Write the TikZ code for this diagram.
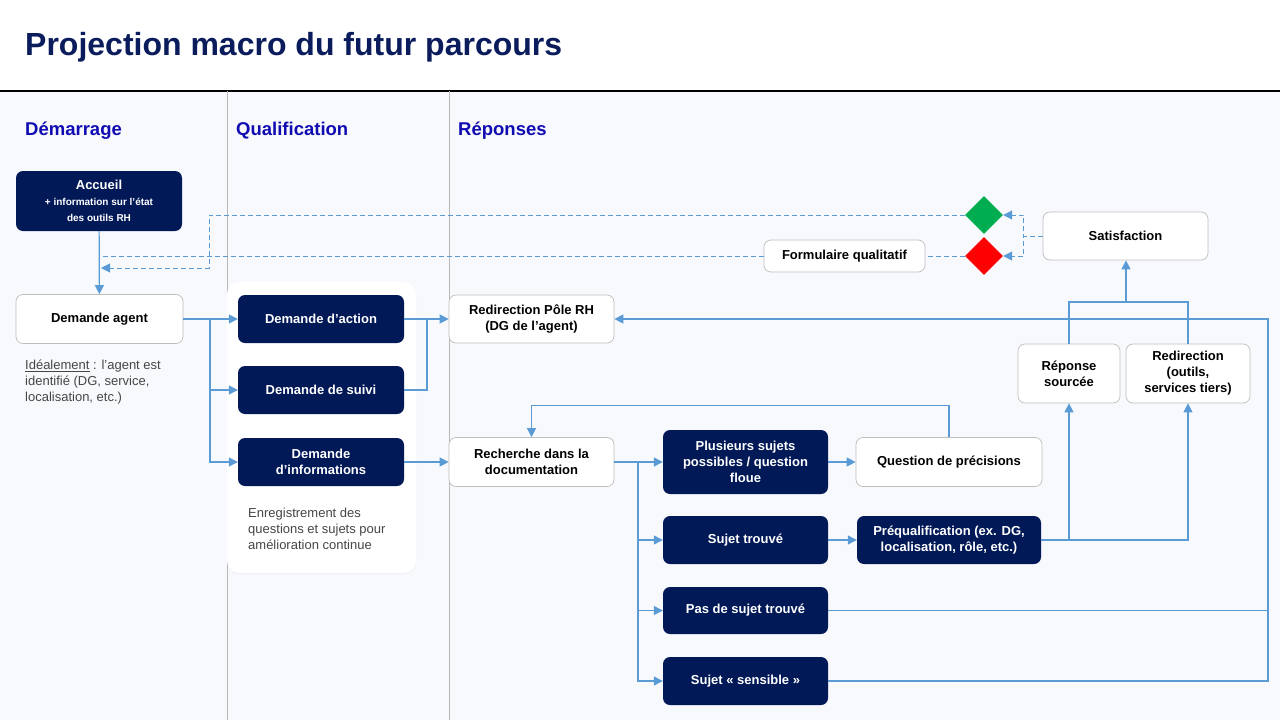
\documentclass[tikz,border=0pt]{standalone}
\usepackage{fontspec}
\setmainfont{Liberation Sans}
\usetikzlibrary{arrows.meta, positioning, shapes.geometric, shadows}

\definecolor{navy}{RGB}{2,25,87}
\definecolor{titleblue}{RGB}{10,28,92}
\definecolor{headblue}{RGB}{17,12,178}
\definecolor{flow}{RGB}{91,155,213}
\definecolor{pagebg}{RGB}{247,249,253}
\definecolor{boxline}{RGB}{190,190,190}
\definecolor{notegray}{RGB}{70,70,70}
\definecolor{okgreen}{RGB}{0,173,80}
\definecolor{kored}{RGB}{255,0,0}

\newcommand{\boxfont}{\fontsize{13}{16}\selectfont\bfseries}
\newcommand{\petit}{\fontsize{10}{12}\selectfont\bfseries}

\begin{document}
\begin{tikzpicture}[
    x=1pt, y=-1pt,
    darkbox/.style={rectangle, rounded corners=7pt, fill=navy, text=white, font=\boxfont, align=center, minimum width=166pt, minimum height=48pt, inner sep=2pt},
    lightbox/.style={rectangle, rounded corners=7pt, draw=boxline, line width=0.7pt, fill=white, font=\boxfont, align=center, minimum width=166pt, minimum height=48pt, inner sep=2pt},
    header/.style={anchor=west, inner sep=0pt, text=headblue, font=\fontsize{18.5}{22}\selectfont\bfseries},
    note/.style={anchor=north west, inner sep=0pt, align=left, text=notegray, font=\fontsize{13}{16}\selectfont},
    flowline/.style={draw=flow, line width=1.2pt},
    flowarrow/.style={flowline, -{Triangle[length=9pt,width=9pt]}},
    dashline/.style={flowline, line width=1pt, dash pattern=on 5pt off 3pt},
    dasharrow/.style={dashline, -{Triangle[length=9pt,width=9pt]}},
    choice/.style={diamond, minimum width=38pt, minimum height=38pt, inner sep=0pt}
]

\useasboundingbox (0,0) rectangle (1280,720);

% Background and columns
\fill[white] (0,0) rectangle (1280,91);
\fill[pagebg] (0,91) rectangle (1280,720);
\draw[black, line width=1.8pt] (0,91) -- (1280,91);
\draw[gray!55, line width=0.8pt] (227,91) -- (227,720);
\draw[gray!55, line width=0.8pt] (449,91) -- (449,720);

% Title and column headers
\node[anchor=west, inner sep=0pt, text=titleblue, font=\fontsize{32}{38}\selectfont\bfseries] (titre) at (25,47) {Projection macro du futur parcours};
\node[header] (h_demarrage) at (25,131) {Démarrage};
\node[header] (h_qualif) at (236,131) {Qualification};
\node[header] (h_reponses) at (458,131) {Réponses};

% Démarrage
\node[darkbox, minimum height=60pt] (accueil) at (99,201) {Accueil\\\petit + information sur l’état\\\petit des outils RH};
\node[lightbox, minimum width=167pt, minimum height=49pt] (agent) at (99.5,319) {Demande agent};
\node[note] (note_agent) at (25,360) {\underline{Idéalement} : l’agent est\\identifié (DG, service,\\localisation, etc.)};

% Qualification
\node[rectangle, rounded corners=12pt, fill=white, minimum width=189pt, minimum height=291pt, drop shadow={opacity=0.08, shadow xshift=0pt, shadow yshift=-1pt}] (panneau) at (321.5,427.5) {};
\node[darkbox] (action) at (321,319) {Demande d’action};
\node[darkbox] (suivi) at (321,390) {Demande de suivi};
\node[darkbox] (infos) at (321,462) {Demande\\d’informations};
\node[note] (note_qualif) at (248,508) {Enregistrement des\\questions et sujets pour\\amélioration continue};

% Réponses
\node[lightbox, minimum width=165pt] (redir_rh) at (531.5,319) {Redirection Pôle RH\\(DG de l’agent)};
\node[lightbox, minimum width=165pt, minimum height=49pt] (recherche) at (531.5,462) {Recherche dans la\\documentation};
\node[darkbox, minimum width=165pt, minimum height=64pt] (plusieurs) at (745.5,462) {Plusieurs sujets\\possibles / question\\floue};
\node[lightbox, minimum width=186pt, minimum height=49pt] (question) at (949,462) {Question de précisions};
\node[darkbox, minimum width=165pt] (trouve) at (745.5,540) {Sujet trouvé};
\node[darkbox, minimum width=184pt] (prequal) at (949,540) {Préqualification (ex. DG,\\localisation, rôle, etc.)};
\node[darkbox, minimum width=165pt, minimum height=47pt] (pas_trouve) at (745.5,610.5) {Pas de sujet trouvé};
\node[darkbox, minimum width=165pt] (sensible) at (745.5,681) {Sujet «~sensible~»};
\node[lightbox, minimum width=102pt, minimum height=59pt] (sourcee) at (1069,373.5) {Réponse\\sourcée};
\node[lightbox, minimum width=124pt, minimum height=59pt] (tiers) at (1188,373.5) {Redirection\\(outils,\\services tiers)};
\node[lightbox, minimum width=165pt] (satisf) at (1125.5,236) {Satisfaction};
\node[lightbox, minimum width=161pt, minimum height=32pt] (formulaire) at (844.5,256) {Formulaire qualitatif};
\node[choice, fill=okgreen] (vert) at (984,215) {};
\node[choice, fill=kored] (rouge) at (984,256) {};

% Junctions
\coordinate (retour) at (101,268);
\coordinate (rejoint) at (99,256);
\coordinate (split_agent) at (210,319);
\coordinate (split_doc) at (638,462);
\coordinate (joint) at (1126,302);
\coordinate (coin) at (1268,319);

% Connectors
\draw[flowarrow] (accueil) -- (agent);
\draw[flowarrow] (agent.east) -- (action.west);
\draw[flowarrow] (split_agent) |- (suivi.west);
\draw[flowarrow] (split_agent) |- (infos.west);
\draw[flowarrow] (action.east) -- (redir_rh.west);
\draw[flowline] (suivi.east) -| (427,319);
\draw[flowarrow] (infos.east) -- (recherche.west);

\draw[flowarrow] (recherche.east) -- (plusieurs.west);
\draw[flowarrow] (split_doc) |- (trouve.west);
\draw[flowarrow] (split_doc) |- (pas_trouve.west);
\draw[flowarrow] (split_doc) |- (sensible.west);
\draw[flowarrow] (plusieurs) -- (question);
\draw[flowarrow] (question.north) -- ++(0,-32) -| (recherche.north);
\draw[flowarrow] (trouve) -- (prequal);
\draw[flowarrow] (prequal.east) -| (tiers.south);
\draw[flowarrow] (prequal.east -| sourcee.south) -- (sourcee.south);
\draw[flowline] (sourcee.north) |- (joint) -| (tiers.north);
\draw[flowarrow] (joint) -- (joint |- satisf.south);
\draw[flowarrow] (sensible.east) -| (coin) -- (redir_rh.east);
\draw[flowline] (pas_trouve.east) -- (pas_trouve.east -| coin);

% Satisfaction loop
\draw[dasharrow] (satisf.west) -- ++(-19,0) |- (vert.east);
\draw[dasharrow] (satisf.west) -- ++(-19,0) |- (rouge.east);
\draw[dasharrow] (vert.west) -- (209,215) -- (209,268) -- (retour);
\draw[dashline] (rouge.west) -- (formulaire.east);
\draw[dashline] (formulaire.west) -- (rejoint);

\end{tikzpicture}
\end{document}
